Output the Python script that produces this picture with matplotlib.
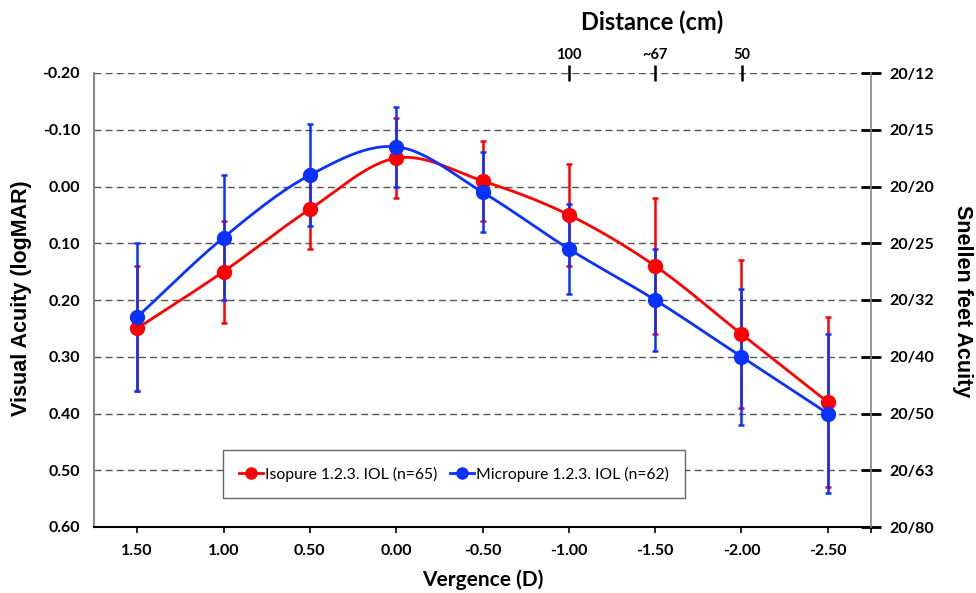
import numpy as np
import matplotlib
matplotlib.use("Agg")
import matplotlib.pyplot as plt
from matplotlib.lines import Line2D

plt.rcParams['font.family'] = ['Lato', 'DejaVu Sans']

# ---------------- data ----------------
vergence = ["1.50", "1.00", "0.50", "0.00", "-0.50", "-1.00", "-1.50", "-2.00", "-2.50"]
iso_mean = [0.25, 0.15, 0.04, -0.05, -0.01, 0.05, 0.14, 0.26, 0.38]
iso_err = [0.11, 0.09, 0.07, 0.07, 0.07, 0.09, 0.12, 0.13, 0.15]
micro_mean = [0.23, 0.09, -0.02, -0.07, 0.01, 0.11, 0.20, 0.30, 0.40]
micro_err = [0.13, 0.11, 0.09, 0.07, 0.07, 0.08, 0.09, 0.12, 0.14]
logmar_ticks = [-0.20, -0.10, 0.00, 0.10, 0.20, 0.30, 0.40, 0.50, 0.60]
snellen_labels = ["20/12", "20/15", "20/20", "20/25", "20/32", "20/40", "20/50", "20/63", "20/80"]
distance_labels = ["100", "~67", "50"]
distance_vergence = ["-1.00", "-1.50", "-2.00"]
iso_label = "Isopure 1.2.3. IOL (n=65)"
micro_label = "Micropure 1.2.3. IOL (n=62)"

RED = "#FF0000"
BLUE = "#0A32FF"
ARIAL = ['Liberation Sans', 'DejaVu Sans']


def catmull_rom(x, y, n=30):
    x = np.asarray(x, float)
    y = np.asarray(y, float)
    px = np.concatenate([[2 * x[0] - x[1]], x, [2 * x[-1] - x[-2]]])
    py = np.concatenate([[2 * y[0] - y[1]], y, [2 * y[-1] - y[-2]]])
    xs, ys = [], []
    t = np.linspace(0, 1, n)
    for i in range(1, len(px) - 2):
        for arr, out in ((px, xs), (py, ys)):
            p0, p1, p2, p3 = arr[i - 1], arr[i], arr[i + 1], arr[i + 2]
            out.append(0.5 * ((2 * p1) + (-p0 + p2) * t
                              + (2 * p0 - 5 * p1 + 4 * p2 - p3) * t ** 2
                              + (-p0 + 3 * p1 - 3 * p2 + p3) * t ** 3))
    return np.concatenate(xs), np.concatenate(ys)


W, H = 976, 593
fig = plt.figure(figsize=(W / 100, H / 100), dpi=100)
ax = fig.add_axes([94 / W, 1 - 527 / H, (871 - 94) / W, (527 - 73) / H])

xpos = np.arange(len(vergence))

# grid lines
for v in logmar_ticks[:-1]:
    ax.axhline(v, color="#555555", lw=1.0, ls=(0, (5, 3)), zorder=1)

for mean, err, col in ((iso_mean, iso_err, RED), (micro_mean, micro_err, BLUE)):
    sx, sy = catmull_rom(xpos, mean)
    ax.plot(sx, sy, color=col, lw=2.0, zorder=3)
    ax.errorbar(xpos, mean, yerr=err, fmt='none', ecolor=col, elinewidth=1.8,
                capsize=2.5, capthick=1.8, zorder=4)
    ax.plot(xpos, mean, 'o', color=col, ms=10, zorder=5)

ax.set_xlim(-0.5, len(vergence) - 0.5)
ax.set_ylim(0.60, -0.20)
ax.set_yticks(logmar_ticks)
ax.set_yticklabels([f"{v:.2f}" for v in logmar_ticks], fontsize=11.5, fontweight='bold')
ax.set_xticks(xpos)
ax.set_xticklabels(vergence, fontsize=11.5, fontweight='bold')
ax.set_xticks([len(vergence) - 0.5], minor=True)
ax.tick_params(axis='y', length=0, pad=10)
ax.tick_params(axis='x', which='both', direction='out', length=4, width=1.2, color='black', pad=8)

ax.spines['top'].set_visible(False)
ax.spines['right'].set_visible(False)
ax.spines['left'].set_color('#888888')
ax.spines['left'].set_linewidth(1.5)
ax.spines['bottom'].set_color('black')
ax.spines['bottom'].set_linewidth(1.5)

fig.text(22 / W, 1 - 298 / H, "Visual Acuity (logMAR)", rotation=90, ha='center', va='center',
         fontsize=15.5, fontweight='bold', family=ARIAL)
fig.text(483 / W, 1 - 580 / H, "Vergence (D)", ha='center', va='center',
         fontsize=15, fontweight='bold')

# right axis (Snellen)
axr = ax.twinx()
axr.set_ylim(0.60, -0.20)
axr.set_yticks(logmar_ticks)
axr.set_yticklabels(snellen_labels, fontsize=11.5, fontweight='bold')
axr.tick_params(axis='y', direction='inout', length=14, width=2, color='black', pad=6)
for s in ('top', 'left', 'bottom'):
    axr.spines[s].set_visible(False)
axr.spines['right'].set_color('#888888')
axr.spines['right'].set_linewidth(1.2)
fig.text(963 / W, 1 - 301 / H, "Snellen feet Acuity", rotation=-90, ha='center', va='center',
         fontsize=15.5, fontweight='bold', family=ARIAL)

# top axis (Distance)
axt = ax.twiny()
axt.set_xlim(ax.get_xlim())
axt.set_xticks([vergence.index(v) for v in distance_vergence])
axt.set_xticklabels(distance_labels, fontsize=10.5, fontweight='bold')
axt.tick_params(axis='x', direction='inout', length=12, width=1.8, color='black', pad=2)
for s in axt.spines.values():
    s.set_visible(False)
fig.text(652 / W, 1 - 22 / H, "Distance (cm)", ha='center', va='center',
         fontsize=17, fontweight='bold')

# legend
handles = [Line2D([], [], color=RED, lw=2, marker='o', ms=8),
           Line2D([], [], color=BLUE, lw=2, marker='o', ms=8)]
leg = fig.legend(handles, [iso_label, micro_label], ncol=2, loc='center',
                 bbox_to_anchor=(454 / W, 1 - 474 / H),
                 fancybox=False, edgecolor='#666666', framealpha=1,
                 fontsize=11.3, handlelength=1.5, handletextpad=0.15, columnspacing=0.8,
                 borderpad=1.05)
leg.get_frame().set_linewidth(1.0)

fig.savefig("out.png", dpi=100)
